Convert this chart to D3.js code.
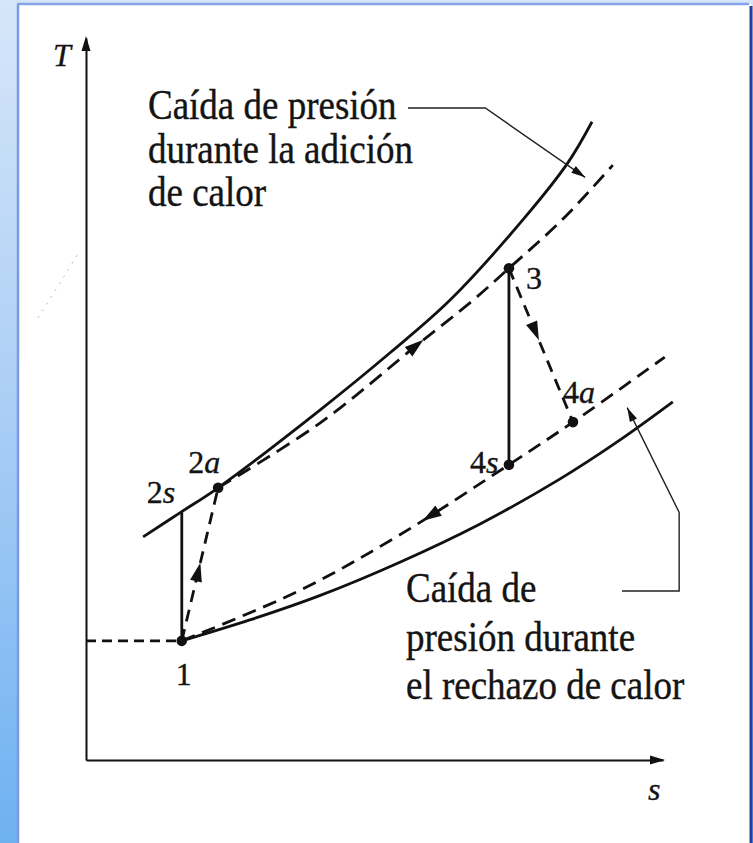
<!DOCTYPE html>
<html>
<head>
<meta charset="utf-8">
<script src="https://cdn.jsdelivr.net/npm/d3@7"></script>
<style>
  html, body { margin: 0; padding: 0; background: #fff; }
  svg { display: block; }
  text { font-family: "Liberation Serif", "DejaVu Serif", serif; fill: #141414; stroke: #141414; stroke-width: 0.35px; }
</style>
</head>
<body>
<svg id="chart" width="753" height="843"></svg>
<script>
// Brayton cycle T-s diagram with pressure losses (entropy s, temperature T, arbitrary units 0..10)

// high-pressure isobar (ideal heat addition)
const highIsobarS = [0.99, 1.66, 2.29, 4.06, 5.27, 6.31, 7.57, 8.35, 8.77];
const highIsobarT = [3.09, 3.44, 3.77, 4.85, 5.64, 6.37, 7.48, 8.27, 8.84];

// actual heat addition with pressure drop (2a -> 3 and beyond)
const heatAddS = [2.29, 4.06, 5.74, 6.71, 7.33, 8.25, 9.13];
const heatAddT = [3.77, 4.67, 5.75, 6.37, 6.81, 7.48, 8.24];

// low-pressure isobar (ideal heat rejection)
const lowIsobarS = [1.66, 2.84, 4.06, 5.44, 6.83, 8.21, 9.25, 10.17];
const lowIsobarT = [1.65, 1.94, 2.28, 2.74, 3.27, 3.89, 4.43, 4.96];

// actual heat rejection with pressure drop (through 4s, 4a down to 1)
const heatRejS = [1.66, 3.71, 5.44, 7.33, 8.44, 10.03];
const heatRejT = [1.65, 2.35, 3.12, 4.09, 4.68, 5.58];

// cycle states
const stateNames = ["1", "2s", "2a", "3", "4s", "4a"];
const stateS = [1.66, 1.66, 2.29, 7.33, 7.33, 8.44];
const stateT = [1.65, 3.43, 3.77, 6.81, 4.09, 4.68];

// axis titles
const axisTitleT = "T";
const axisTitleS = "s";

// annotations
const noteTop = ["Caída de presión", "durante la adición", "de calor"];
const noteBottom = ["Caída de", "presión durante", "el rechazo de calor"];
const leaderTopS = [5.58, 6.92, 8.65];
const leaderTopT = [9.03, 9.03, 8.07];
const leaderBottomS = [9.29, 10.28, 10.28, 9.38];
const leaderBottomT = [2.34, 2.34, 3.43, 4.88];

const svg = d3.select("#chart");
const W = 753, H = 843;

// ---- frame ----
const defs = svg.append("defs");
const grad = defs.append("linearGradient").attr("id", "bg").attr("x1", 0).attr("y1", 0).attr("x2", 0).attr("y2", 1);
grad.append("stop").attr("offset", "0%").attr("stop-color", "#d6e6f9");
grad.append("stop").attr("offset", "50%").attr("stop-color", "#a9cdf5");
grad.append("stop").attr("offset", "100%").attr("stop-color", "#6eb1f1");
svg.append("rect").attr("width", W).attr("height", H).attr("fill", "url(#bg)");
svg.append("rect").attr("x", 18).attr("y", 4).attr("width", 733).attr("height", H).attr("fill", "#fff");
svg.append("line").attr("x1", 18).attr("y1", 4).attr("x2", 18).attr("y2", H).attr("stroke", "#7b9ae6").attr("stroke-width", 2.5);
svg.append("line").attr("x1", 17).attr("y1", 4).attr("x2", 749).attr("y2", 4).attr("stroke", "#86a3ea").attr("stroke-width", 2.5);
svg.append("line").attr("x1", 751).attr("y1", 6).attr("x2", 751).attr("y2", H).attr("stroke", "#22409f").attr("stroke-width", 3);

// ---- scales ----
const x = d3.scaleLinear().domain([0, 10]).range([86, 663]);
const y = d3.scaleLinear().domain([0, 10]).range([760, 38]);

const zip = (S, T) => S.map((s, i) => [s, T[i]]);
const smooth = d3.line().x(d => x(d[0])).y(d => y(d[1])).curve(d3.curveCatmullRom.alpha(0.5));
const straight = d3.line().x(d => x(d[0])).y(d => y(d[1]));

const ink = "#111";

// faint scan speck line at the left margin
svg.append("line")
  .attr("x1", 38).attr("y1", 318).attr("x2", 78).attr("y2", 254)
  .attr("stroke", "#bbb").attr("stroke-width", 1).attr("stroke-dasharray", "2 6");

// ---- axes (no ticks) ----
const gy = svg.append("g").attr("transform", `translate(${x(0)},0)`)
  .call(d3.axisLeft(y).ticks(0).tickSizeOuter(0));
const gx = svg.append("g").attr("transform", `translate(0,${y(0)})`)
  .call(d3.axisBottom(x).ticks(0).tickSizeOuter(0));
[gy, gx].forEach(g => g.select(".domain").attr("stroke", ink).attr("stroke-width", 2));

function arrowHead(px, py, angle, len = 17, half = 5.5) {
  svg.append("path")
    .attr("d", `M0,0 L${-len},${-half} L${-len},${half} Z`)
    .attr("transform", `translate(${px},${py}) rotate(${angle * 180 / Math.PI})`)
    .attr("fill", ink);
}
arrowHead(x(0), y(10) - 2, -Math.PI / 2, 15, 4.5);
arrowHead(x(10) + 2, y(0), 0, 15, 4.5);

svg.append("text").attr("x", 53).attr("y", 66).attr("font-size", 32).attr("font-style", "italic").text(axisTitleT);
svg.append("text").attr("x", 648).attr("y", 800).attr("font-size", 32).attr("font-style", "italic").text(axisTitleS);

// ---- isobars and process curves ----
const curveStyle = sel => sel.attr("fill", "none").attr("stroke", ink).attr("stroke-width", 2.8).attr("stroke-linecap", "butt");

curveStyle(svg.append("path").attr("d", smooth(zip(highIsobarS, highIsobarT))));
curveStyle(svg.append("path").attr("d", smooth(zip(lowIsobarS, lowIsobarT))));
const addPath = curveStyle(svg.append("path").attr("d", smooth(zip(heatAddS, heatAddT))).attr("stroke-dasharray", "15 8"));
const rejPath = curveStyle(svg.append("path").attr("d", smooth(zip(heatRejS, heatRejT))).attr("stroke-dasharray", "14 8"));

const st = name => { const i = stateNames.indexOf(name); return [stateS[i], stateT[i]]; };

// isentropic (ideal) compression and expansion
curveStyle(svg.append("path").attr("d", straight([st("1"), st("2s")])));
curveStyle(svg.append("path").attr("d", straight([st("3"), st("4s")])));

// actual compression and expansion
curveStyle(svg.append("path").attr("d", straight([st("1"), st("2a")])).attr("stroke-dasharray", "12 8"));
curveStyle(svg.append("path").attr("d", straight([st("3"), st("4a")])).attr("stroke-dasharray", "12 8"));

// inlet line from the T axis to state 1
curveStyle(svg.append("path").attr("d", straight([[0, stateT[0]], st("1")])).attr("stroke-dasharray", "10 6").attr("stroke-width", 2.2));

// direction arrows along a path at a given s value
function arrowOnPath(pathSel, sTarget, reverse) {
  const node = pathSel.node();
  const L = node.getTotalLength();
  let lo = 0, hi = L;
  const tx = x(sTarget);
  for (let k = 0; k < 40; k++) {
    const mid = (lo + hi) / 2;
    if (node.getPointAtLength(mid).x < tx) lo = mid; else hi = mid;
  }
  const p = node.getPointAtLength(lo);
  const a = node.getPointAtLength(Math.max(0, lo - 2)), b = node.getPointAtLength(Math.min(L, lo + 2));
  let ang = Math.atan2(b.y - a.y, b.x - a.x);
  if (reverse) ang += Math.PI;
  arrowHead(p.x + 8 * Math.cos(ang), p.y + 8 * Math.sin(ang), ang, 19, 6);
}
arrowOnPath(addPath, 5.74, false);
arrowOnPath(rejPath, 5.95, true);

function arrowOnSegment(from, to, frac) {
  const p0 = [x(from[0]), y(from[1])], p1 = [x(to[0]), y(to[1])];
  const ang = Math.atan2(p1[1] - p0[1], p1[0] - p0[0]);
  const px = p0[0] + (p1[0] - p0[0]) * frac, py = p0[1] + (p1[1] - p0[1]) * frac;
  arrowHead(px + 8 * Math.cos(ang), py + 8 * Math.sin(ang), ang, 19, 6);
}
arrowOnSegment(st("1"), st("2a"), 0.46);
arrowOnSegment(st("3"), st("4a"), 0.42);

// ---- state points ----
const dotted = ["1", "2a", "3", "4s", "4a"];
svg.append("g").selectAll("circle")
  .data(dotted)
  .join("circle")
  .attr("cx", d => x(st(d)[0]))
  .attr("cy", d => y(st(d)[1]))
  .attr("r", 5.3)
  .attr("fill", ink);

// state labels: digit upright, letter italic
const labelPos = { "1": [-6, 44], "2s": [-35, -9], "2a": [-30, -15], "3": [17, 21], "4s": [-39, 8], "4a": [-10, -19] };
stateNames.forEach(n => {
  const [dx, dy] = labelPos[n];
  const t = svg.append("text")
    .attr("x", x(st(n)[0]) + dx).attr("y", y(st(n)[1]) + dy)
    .attr("font-size", 32);
  t.append("tspan").text(n[0]);
  if (n.length > 1) t.append("tspan").attr("font-style", "italic").text(n.slice(1));
});

// ---- annotations ----
function noteBlock(lines, left, base0, step) {
  lines.forEach((s, i) => {
    svg.append("text")
      .attr("transform", `translate(${left},${base0 + i * step}) scale(1,1.13)`)
      .attr("font-size", 37)
      .text(s);
  });
}
noteBlock(noteTop, 148, 119, 43.5);
noteBlock(noteBottom, 406, 602, 48.5);

function leader(S, T) {
  const pts = zip(S, T);
  svg.append("path").attr("d", straight(pts)).attr("fill", "none").attr("stroke", "#222").attr("stroke-width", 1.4);
  const n = pts.length;
  const p1 = [x(pts[n - 1][0]), y(pts[n - 1][1])], p0 = [x(pts[n - 2][0]), y(pts[n - 2][1])];
  const ang = Math.atan2(p1[1] - p0[1], p1[0] - p0[0]);
  arrowHead(p1[0], p1[1], ang, 14, 4);
}
leader(leaderTopS, leaderTopT);
leader(leaderBottomS, leaderBottomT);
</script>
</body>
</html>
